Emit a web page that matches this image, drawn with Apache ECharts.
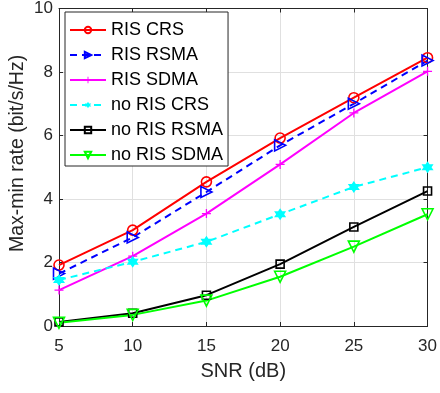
<!DOCTYPE html>
<html><head><meta charset="utf-8">
<script src="https://cdn.jsdelivr.net/npm/echarts@6/dist/echarts.min.js"></script>
<style>html,body{margin:0;padding:0;background:#fff}#c{width:440px;height:393px}</style>
</head><body><div id="c"></div>
<script>
var snr = [5, 10, 15, 20, 25, 30];
var xTicks = [5, 10, 15, 20, 25, 30];
var yTicks = [0, 2, 4, 6, 8, 10];
var risCRS = [1.92, 3.02, 4.54, 5.92, 7.19, 8.45];
var risRSMA = [1.65, 2.79, 4.22, 5.69, 7.0, 8.36];
var risSDMA = [1.13, 2.2, 3.54, 5.09, 6.71, 8.02];
var noRisCRS = [1.45, 2.02, 2.65, 3.52, 4.38, 5.0];
var noRisRSMA = [0.13, 0.4, 0.97, 1.95, 3.12, 4.25];
var noRisSDMA = [0.1, 0.35, 0.8, 1.55, 2.5, 3.52];
var names = ['RIS CRS', 'RIS RSMA', 'RIS SDMA', 'no RIS CRS', 'no RIS RSMA', 'no RIS SDMA'];
var xTitle = 'SNR (dB)';
var yTitle = 'Max-min rate (bit/s/Hz)';

function pairs(a){ return snr.map(function(x,i){ return [x, a[i]]; }); }
var hexagram = 'path://M0,-1L0.289,-0.5L0.866,-0.5L0.577,0L0.866,0.5L0.289,0.5L0,1L-0.289,0.5L-0.866,0.5L-0.577,0L-0.866,-0.5L-0.289,-0.5Z';
var plus = 'path://M-1,-0.14H1V0.14H-1Z M-0.14,-1H0.14V1H-0.14Z';
var font = '"Liberation Sans", Arial, Helvetica, sans-serif';
var ink = '#262626';

function mk(name, data, color, dash, symbol, size, rot, filled){
  return {
    name: name, type: 'line', data: pairs(data),
    symbol: symbol, symbolSize: size, symbolRotate: rot || 0,
    showSymbol: true,
    lineStyle: {color: color, width: 2, type: dash ? [7, 5] : 'solid'},
    itemStyle: {color: filled ? color : 'rgba(255,255,255,0)', borderColor: color, borderWidth: filled ? 0 : 1.6},
    emphasis: {disabled: true},
    animation: false,
    z: 3
  };
}

var chart = echarts.init(document.getElementById('c'));
chart.setOption({
  backgroundColor: '#fff',
  animation: false,
  textStyle: {fontFamily: font},
  grid: {left: 59, right: 9, top: 7, bottom: 67},
  legend: {
    orient: 'vertical', left: 65, top: 12,
    data: names,
    itemWidth: 36, itemHeight: 8, itemGap: 5,
    padding: [8, 5, 1, 4],
    backgroundColor: '#fff', borderColor: ink, borderWidth: 1,
    textStyle: {fontSize: 18, lineHeight: 20, color: '#000', fontFamily: font, padding: [0, 0, 0, 0]},
    selectedMode: false
  },
  graphic: [{
    type: 'text', silent: true,
    style: {text: yTitle, fontSize: 19.5, fill: ink, fontFamily: font},
    rotation: Math.PI / 2, x: 8, y: 252, originX: 0, originY: 0
  }],
  xAxis: [{
    type: 'value', min: 5, max: 30, interval: 5,
    name: xTitle, nameLocation: 'middle', nameGap: 35,
    nameTextStyle: {fontSize: 20, color: ink, fontFamily: font},
    axisLine: {show: true, onZero: false, lineStyle: {color: ink}},
    axisTick: {show: true, inside: true, length: 4, lineStyle: {color: ink}},
    axisLabel: {fontSize: 17, color: ink, margin: 12, fontFamily: font,
      formatter: function(v){ return xTicks.indexOf(v) >= 0 ? String(v) : ''; }},
    splitLine: {show: true, lineStyle: {color: '#e0e0e0', width: 1}}
  }, {
    type: 'value', min: 5, max: 30, interval: 5, position: 'top',
    axisLine: {show: true, onZero: false, lineStyle: {color: ink}},
    axisTick: {show: true, inside: true, length: 4, lineStyle: {color: ink}},
    axisLabel: {show: false}, splitLine: {show: false}
  }],
  yAxis: [{
    type: 'value', min: 0, max: 10, interval: 2,
    axisLine: {show: true, onZero: false, lineStyle: {color: ink}},
    axisTick: {show: true, inside: true, length: 4, lineStyle: {color: ink}},
    axisLabel: {fontSize: 17, color: ink, margin: 6, fontFamily: font,
      formatter: function(v){ return yTicks.indexOf(v) >= 0 ? String(v) : ''; }},
    splitLine: {show: true, lineStyle: {color: '#e0e0e0', width: 1}}
  }, {
    type: 'value', min: 0, max: 10, interval: 2, position: 'right',
    axisLine: {show: true, onZero: false, lineStyle: {color: ink}},
    axisTick: {show: true, inside: true, length: 4, lineStyle: {color: ink}},
    axisLabel: {show: false}, splitLine: {show: false}
  }],
  series: [
    mk(names[0], risCRS, '#ff0000', false, 'circle', 10, 0, false),
    mk(names[1], risRSMA, '#0000ff', true, 'triangle', 11, -90, false),
    mk(names[2], risSDMA, '#ff00ff', false, plus, 9, 0, true),
    mk(names[3], noRisCRS, '#00ffff', true, hexagram, 12, 0, true),
    mk(names[4], noRisRSMA, '#000000', false, 'rect', 8, 0, false),
    mk(names[5], noRisSDMA, '#00ff00', false, 'triangle', 11, 180, false)
  ]
});
</script>
</body></html>
